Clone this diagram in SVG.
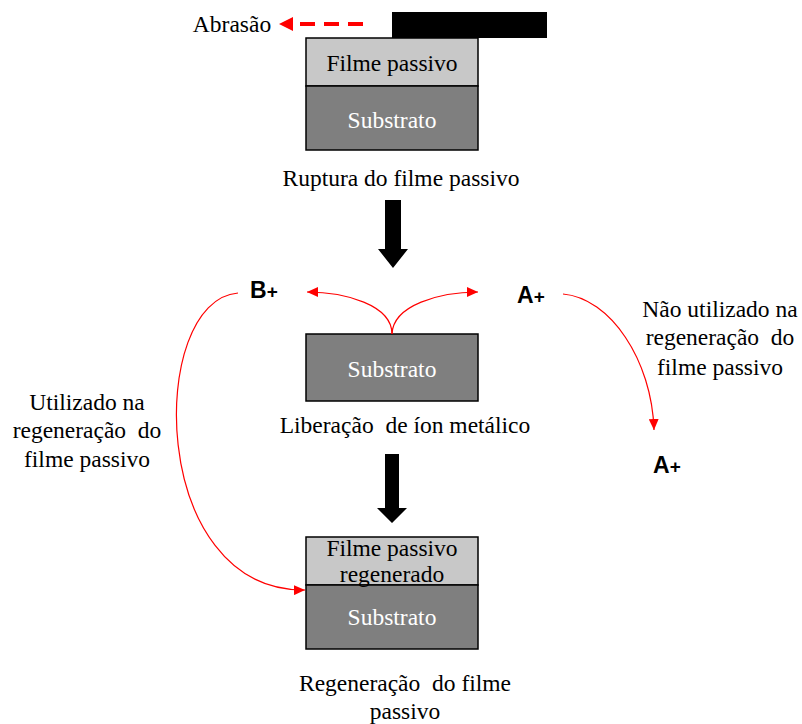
<svg xmlns="http://www.w3.org/2000/svg" width="802" height="724" viewBox="0 0 802 724">
<style>
.t{font-family:"Liberation Serif","Times New Roman",serif;font-size:23.5px;fill:#000;text-anchor:middle;white-space:pre}
.w{fill:#fff}
.b{font-family:"Liberation Sans",Arial,sans-serif;font-weight:bold;font-size:23px;fill:#000}
.p{font-size:19px}
.film{fill:#c8c8c8;stroke:#000;stroke-width:1.5}
.sub{fill:#7f7f7f;stroke:#000;stroke-width:1.5}
.red{fill:none;stroke:#ff0000;stroke-width:1.2}
</style>
<defs>
<marker id="ah" markerUnits="userSpaceOnUse" markerWidth="12" markerHeight="10" refX="11" refY="5" orient="auto">
<path d="M0,0 L11,5 L0,10 Z" fill="#ff0000"/>
</marker>
</defs>
<rect width="802" height="724" fill="#fff"/>
<g id="tool">
<rect x="392" y="12" width="155" height="26" fill="#000"/>
</g>
<g id="abrasao">
<text class="t" x="232" y="32">Abrasão</text>
<path d="M363,24 H292" stroke="#ff0000" stroke-width="4" stroke-dasharray="15,9" fill="none"/>
<path d="M279,24 L293,17 L293,31 Z" fill="#ff0000"/>
</g>
<g id="stage1">
<rect class="film" x="306" y="38" width="172" height="48"/>
<rect class="sub" x="306" y="86" width="172" height="64"/>
<text class="t" x="392" y="71">Filme passivo</text>
<text class="t w" x="392" y="128">Substrato</text>
<text class="t" x="401" y="186">Ruptura do filme passivo</text>
</g>
<g id="stage2">
<rect class="sub" x="306" y="334" width="172" height="67"/>
<text class="t w" x="392" y="377">Substrato</text>
<text class="t" x="405" y="433">Liberação  de íon metálico</text>
</g>
<g id="stage3">
<rect class="film" x="306" y="537" width="172" height="48"/>
<rect class="sub" x="306" y="585" width="172" height="64"/>
<text class="t" x="392" y="556">Filme passivo</text>
<text class="t" x="392" y="582">regenerado</text>
<text class="t w" x="392" y="625">Substrato</text>
<text class="t" x="405" y="691">Regeneração  do filme</text>
<text class="t" x="405" y="719">passivo</text>
</g>
<g id="ionB">
<text class="b" x="250" y="298">B<tspan class="p">+</tspan></text>
</g>
<g id="ionA">
<text class="b" x="517" y="303">A<tspan class="p">+</tspan></text>
</g>
<g id="ionA2">
<text class="b" x="653" y="473">A<tspan class="p">+</tspan></text>
</g>
<g id="labelLeft">
<text class="t" x="87" y="410">Utilizado na</text>
<text class="t" x="87" y="438">regeneração  do</text>
<text class="t" x="87" y="467">filme passivo</text>
</g>
<g id="labelRight">
<text class="t" x="720" y="317">Não utilizado na</text>
<text class="t" x="720" y="345">regeneração  do</text>
<text class="t" x="720" y="375">filme passivo</text>
</g>
<g id="connectors">
<path d="M385,200 H401 V249 H408 L393,268 L378,249 H385 Z" fill="#000"/>
<path d="M385,454 H399 V508 H407 L392,523 L377,508 H385 Z" fill="#000"/>
<path class="red" d="M392,334 C392,305 345,292 307,292" marker-end="url(#ah)"/>
<path class="red" d="M392,334 C393,305 440,292 478,292" marker-end="url(#ah)"/>
<path class="red" d="M238,293 C147,300 147,592 305,590" marker-end="url(#ah)"/>
<path class="red" d="M563,294 C610,298 652,360 654,430" marker-end="url(#ah)"/>
</g>
</svg>
